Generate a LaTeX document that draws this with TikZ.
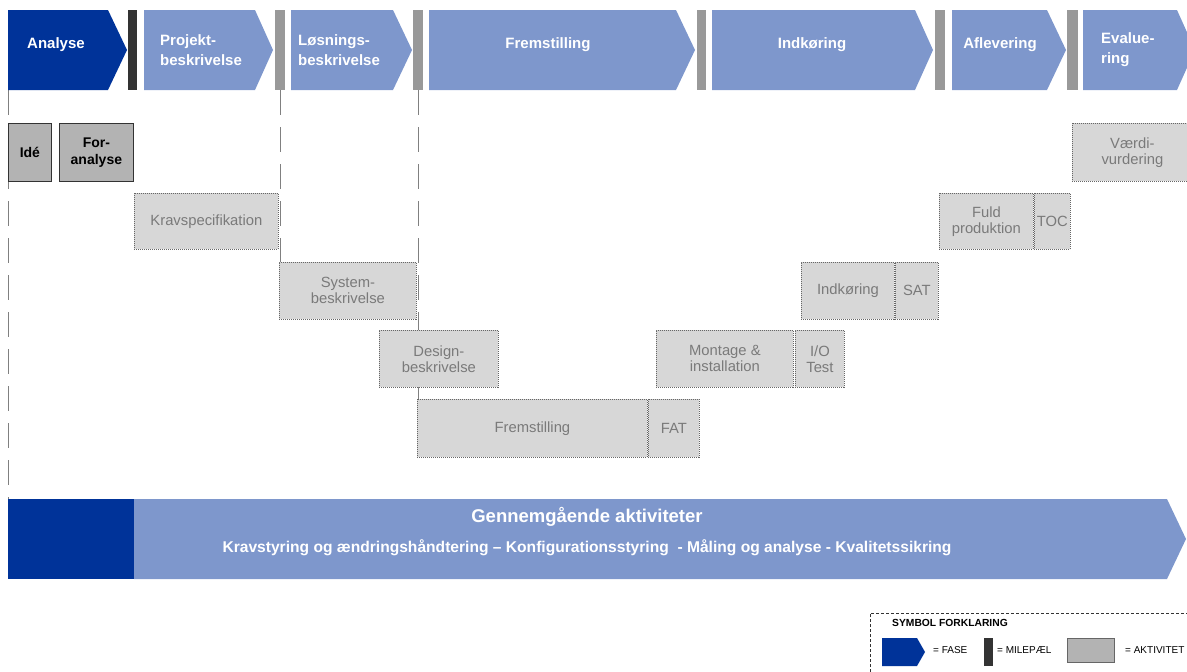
\documentclass[tikz,border=0pt]{standalone}
\usepackage{fontspec}
\setmainfont{Liberation Sans}
\usetikzlibrary{backgrounds}
\definecolor{fasedark}{HTML}{003399}
\definecolor{faselight}{HTML}{7E97CC}
\definecolor{milegray}{HTML}{999999}
\definecolor{aktlight}{HTML}{D7D7D7}
\definecolor{aktdark}{HTML}{B3B3B3}
\definecolor{akttxt}{HTML}{7A7A7A}
\begin{document}
\begin{tikzpicture}[x=1pt,y=-1pt,
  every node/.style={inner sep=0pt},
  fasetxt/.style={text=white,font=\bfseries\fontsize{15}{20}\selectfont,align=left},
  mile/.style={fill=milegray,anchor=north west,minimum width=10pt,minimum height=80pt},
  aktiv/.style={draw=black!60,dash pattern=on 1pt off 1pt,line width=0.8pt,fill=aktlight,text=akttxt,
    font=\fontsize{14.8}{16}\selectfont,align=center,anchor=north west},
  aktfast/.style={draw=black!80,line width=0.8pt,fill=aktdark,font=\bfseries\fontsize{14}{17}\selectfont,
    align=center,anchor=north west},
  vline/.style={draw=black!50,line width=0.8pt,dash pattern=on 25pt off 12pt},
  legtxt/.style={font=\fontsize{10}{11}\selectfont,anchor=west}]
\useasboundingbox (0,0) rectangle (1187,672);
\clip (0,0) rectangle (1187,672);
\fill [fasedark] (8,10) -- (108,10) -- (127,50) -- (108,90) -- (8,90) -- cycle;
\node [fasetxt] (analyse) at (56,45) {Analyse};
\node [mile,fill=black!80,minimum width=9pt] (m1) at (128,10) {};
\fill [faselight] (144,10) -- (255,10) -- (273,50) -- (255,90) -- (144,90) -- cycle;
\node [fasetxt,anchor=west] (projekt) at (160,50) {Projekt-\\beskrivelse};
\node [mile] (m2) at (275,10) {};
\fill [faselight] (291,10) -- (393,10) -- (412,50) -- (393,90) -- (291,90) -- cycle;
\node [fasetxt,anchor=west] (loesning) at (298,50) {Løsnings-\\beskrivelse};
\node [mile] (m3) at (413,10) {};
\fill [faselight] (429,10) -- (676,10) -- (695,50) -- (676,90) -- (429,90) -- cycle;
\node [fasetxt] (fremst) at (548,45) {Fremstilling};
\node [mile,minimum width=9pt] (m4) at (697,10) {};
\fill [faselight] (712,10) -- (915,10) -- (933,50) -- (915,90) -- (712,90) -- cycle;
\node [fasetxt] (indk) at (812,45) {Indkøring};
\node [mile] (m5) at (935,10) {};
\fill [faselight] (952,10) -- (1047,10) -- (1066,50) -- (1047,90) -- (952,90) -- cycle;
\node [fasetxt] (aflev) at (1000,45) {Aflevering};
\node [mile,minimum width=11pt] (m6) at (1067,10) {};
\fill [faselight] (1083,10) -- (1177,10) -- (1195,50) -- (1177,90) -- (1083,90) -- cycle;
\node [fasetxt,anchor=west] (evalu) at (1101,50) {Evalue-\\ring};
\node [aktfast,minimum width=43pt,minimum height=58pt] (ide) at (8,123) {Idé};
\node [aktfast,minimum width=74pt,minimum height=58pt] (foran) at (59,123) {For-\\analyse};
\node [aktiv,minimum width=144pt,minimum height=56pt] (krav) at (134,193) {Kravspecifikation};
\node [aktiv,minimum width=137pt,minimum height=57pt] (system) at (279,262) {System-\\beskrivelse};
\node [aktiv,minimum width=119pt,minimum height=57pt] (design) at (379,330) {Design-\\beskrivelse};
\node [aktiv,minimum width=230pt,minimum height=58pt] (fremb) at (417,399) {Fremstilling};
\node [aktiv,minimum width=51pt,minimum height=58pt] (fat) at (648,399) {FAT};
\node [aktiv,minimum width=137pt,minimum height=57pt] (montage) at (656,330) {Montage \&\\installation};
\node [aktiv,minimum width=49pt,minimum height=57pt] (iotest) at (795,330) {I/O\\Test};
\node [aktiv,minimum width=93pt,minimum height=57pt] (indkb) at (801,262) {Indkøring};
\node [aktiv,minimum width=43pt,minimum height=57pt] (sat) at (895,262) {SAT};
\node [aktiv,minimum width=94pt,minimum height=56pt] (fuld) at (939,193) {Fuld\\produktion};
\node [aktiv,minimum width=36pt,minimum height=56pt] (toc) at (1034,193) {TOC};
\node [aktiv,minimum width=120pt,minimum height=58pt] (vaerdi) at (1072,123) {Værdi-\\vurdering};
\node [fill=fasedark,anchor=north west,minimum width=126pt,minimum height=80pt] (basis) at (8,499) {};
\fill [faselight] (134,499) -- (1167,499) -- (1186,539) -- (1167,579) -- (134,579) -- cycle;
\node [text=white,font=\bfseries\fontsize{18.5}{20}\selectfont] (gennem) at (587,517) {Gennemgående aktiviteter};
\node [text=white,font=\bfseries\fontsize{15.6}{17}\selectfont] (styring) at (587,548)
  {Kravstyring og ændringshåndtering – Konfigurationsstyring\ \ - Måling og analyse - Kvalitetssikring};
\coordinate (venstre) at (8,90);
\begin{scope}[on background layer]
\draw [vline] (venstre) -- (basis.north west);
\draw [vline] (m2.south) -- (m2.south |- system.north);
\draw [vline] (m3.south) -- (m3.south |- fremb.north);
\end{scope}
\draw [black!80,line width=0.8pt,dash pattern=on 3pt off 2pt] (870,672) -- (870,613) -- (1187,613);
\node [font=\bfseries\fontsize{10.3}{11}\selectfont,anchor=west] (symtitel) at (892,623) {SYMBOL FORKLARING};
\fill [fasedark] (882,638) -- (917,638) -- (925,652) -- (917,666) -- (882,666) -- cycle;
\node [legtxt] (fase) at (933,650) {= FASE};
\node [fill=black!80,anchor=north west,minimum width=9pt,minimum height=28pt] (milesym) at (984,638) {};
\node [legtxt] (milepael) at (997,650) {= MILEPÆL};
\node [draw=black!60,line width=1pt,fill=aktdark,anchor=north west,minimum width=47pt,minimum height=24pt] (aktsym) at (1067,638) {};
\node [legtxt] (aktivitet) at (1125,650) {= AKTIVITET};
\end{tikzpicture}
\end{document}
